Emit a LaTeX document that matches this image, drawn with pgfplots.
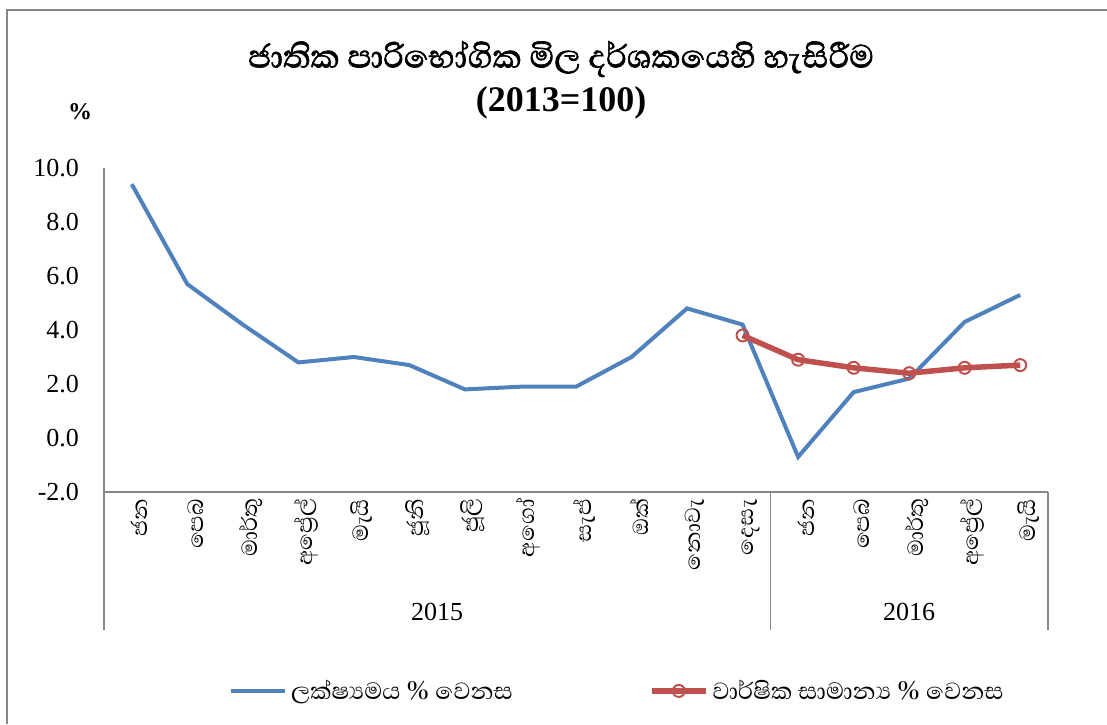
\documentclass[border=0pt]{standalone}
\usepackage{fontspec}
\setmainfont{Liberation Serif}
\newfontfamily\sinhfont[Script=Sinhala]{Abhaya Libre}
\newfontfamily\sinhbold[Script=Sinhala, FakeBold=1.5]{Abhaya Libre}
\usepackage{pgfplots}
\pgfplotsset{compat=1.18}
\definecolor{cblue}{HTML}{4F81BD}
\definecolor{cred}{HTML}{C0504D}
\definecolor{cgray}{HTML}{868686}
\begin{document}
\begin{tikzpicture}
\useasboundingbox (0,0) rectangle (553.5pt,362pt);
\draw[cgray, line width=1pt] (3.5pt,0pt) -- (3.5pt,357pt) -- (553.5pt,357pt);
\node[font=\sinhbold\fontsize{20.5}{22}\selectfont, inner sep=0pt] at (280.5pt,332.5pt) {ජාතික පාරිභෝගික මිල දර්ශකයෙහි හැසිරීම};
\node[font=\bfseries\fontsize{18}{20}\selectfont, inner sep=0pt] at (280.5pt,310.5pt) {(2013=100)};
\node[font=\bfseries\fontsize{12}{14}\selectfont] at (40pt,306pt) {\%};
\begin{axis}[
  at={(52pt,116pt)}, anchor=south west,
  width=472pt, height=162pt, scale only axis,
  xmin=-0.5, xmax=16.5, ymin=-2, ymax=10,
  axis x line=bottom, axis y line=left,
  axis line style={cgray, line width=0.8pt, -},
  xtick={0,...,16},
  xticklabels={ජන,පෙබ,මාර්තු,අප්^^^^200dරේල්,මැයි,ජූනි,ජූලි,අගෝ,සැප්,ඔක්,නොවැ,දෙසැ,ජන,පෙබ,මාර්තු,අප්^^^^200dරේල්,මැයි},
  xticklabel style={rotate=90, anchor=east, font=\sinhfont\fontsize{14}{14}\selectfont, yshift=-4pt},
  ytick={-2,0,...,10},
  yticklabel style={font=\fontsize{13}{13}\selectfont, xshift=-9pt},
  /pgf/number format/assume math mode=true,
  /pgf/number format/.cd, fixed, fixed zerofill, precision=1, /pgfplots/.cd,
  major tick length=0pt,
  clip=false,
  legend columns=2,
  legend style={at={(0.545,-0.614)}, anchor=center, draw=none, fill=none,
    font=\sinhfont\fontsize{15}{15}\selectfont, /tikz/every even column/.append style={column sep=66pt}},
  legend image code/.code={\draw[mark repeat=2,mark phase=2,#1] plot coordinates {(0pt,0pt) (13.5pt,0pt) (27pt,0pt)};},
]
\addplot[cblue, line width=2pt, mark=none] coordinates {
(0,9.4) (1,5.7) (2,4.2) (3,2.8) (4,3.0) (5,2.7) (6,1.8) (7,1.9) (8,1.9) (9,3.0) (10,4.8) (11,4.2)
(12,-0.7) (13,1.7) (14,2.2) (15,4.3) (16,5.3)};
\addlegendentry{ලක්ෂ්^^^^200dයමය \% වෙනස}
\addplot[cred, line width=2.75pt, mark=o, mark size=3pt, mark options={line width=1pt, fill=white, draw=cred}] coordinates {
(11,3.8) (12,2.9) (13,2.6) (14,2.4) (15,2.6) (16,2.7)};
\addlegendentry{වාර්ෂික සාමාන්^^^^200dය \% වෙනස}
\draw[cgray, line width=0.8pt] (axis cs:-0.5,-2) -- ++(0pt,-69pt);
\draw[cgray, line width=0.8pt] (axis cs:11.5,-2) -- ++(0pt,-69pt);
\draw[cgray, line width=0.8pt] (axis cs:16.5,-2) -- ++(0pt,-69pt);
\node[font=\fontsize{13}{13}\selectfont] at (axis cs:5.5,-2) [yshift=-60pt] {2015};
\node[font=\fontsize{13}{13}\selectfont] at (axis cs:14,-2) [yshift=-60pt] {2016};
\end{axis}
\end{tikzpicture}
\end{document}
